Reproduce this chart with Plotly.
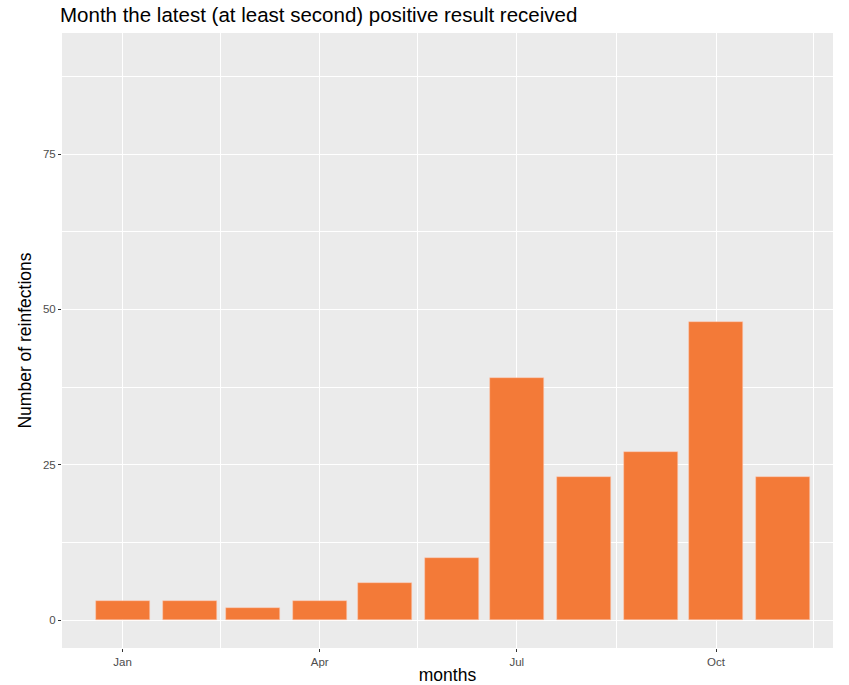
import plotly.graph_objects as go

months = ["2020-01-01", "2020-02-01", "2020-03-01", "2020-04-01", "2020-05-01", "2020-06-01",
          "2020-07-01", "2020-08-01", "2020-09-01", "2020-10-01", "2020-11-01"]
reinfections = [3, 3, 2, 3, 6, 10, 39, 23, 27, 48, 23]

x_tick_vals = ["2020-01-01", "2020-04-01", "2020-07-01", "2020-10-01"]
x_tick_text = ["Jan", "Apr", "Jul", "Oct"]
x_minor_vals = ["2020-02-15", "2020-05-16", "2020-08-16", "2020-11-15"]
y_tick_vals = [0, 25, 50, 75]
y_minor_vals = [12.5, 37.5, 62.5, 87.5]

DAY_MS = 86400000

fig = go.Figure(go.Bar(
    x=months, y=reinfections,
    width=[25 * DAY_MS] * len(months),
    marker=dict(color="#F37A38", line=dict(color="rgba(255,200,180,0.8)", width=0.6)),
))

font = "Liberation Sans, Arial, sans-serif"
fig.update_layout(
    width=849, height=685,
    margin=dict(l=62, r=16, t=33, b=37, autoexpand=False),
    paper_bgcolor="white", plot_bgcolor="#EBEBEB",
    font=dict(family=font, color="#4D4D4D"),
    title=dict(text="Month the latest (at least second) positive result received",
               x=60 / 849, xanchor="left", y=1 - 15 / 685, yanchor="middle",
               font=dict(size=20.5, color="black", family=font)),
    showlegend=False,
    bargap=0,
)
fig.update_xaxes(
    type="date", range=["2019-12-04", "2020-11-24"], automargin=False,
    tickvals=x_tick_vals, ticktext=x_tick_text,
    ticks="outside", ticklen=3, tickwidth=1, tickcolor="#333333",
    tickfont=dict(size=11.5, color="#4D4D4D"),
    showgrid=True, gridcolor="white", gridwidth=1.4,
    minor=dict(tickvals=x_minor_vals, showgrid=True, gridcolor="white", gridwidth=0.6, ticks=""),
    zeroline=False, showline=False,
    title=dict(text="months", font=dict(size=17.5, color="black"), standoff=3),
)
fig.update_yaxes(
    range=[-4.5, 94.5], automargin=False,
    tickvals=y_tick_vals,
    ticks="outside", ticklen=3, tickwidth=1, tickcolor="#333333",
    tickfont=dict(size=11.5, color="#4D4D4D"),
    showgrid=True, gridcolor="white", gridwidth=1.4,
    minor=dict(tickvals=y_minor_vals, showgrid=True, gridcolor="white", gridwidth=0.6, ticks=""),
    zeroline=False, showline=False,
    title=dict(text="Number of reinfections", font=dict(size=17.5, color="black"), standoff=6),
)

fig.write_html("out.html", config={"displayModeBar": False},
               post_script="document.body.style.margin='0';document.body.style.overflow='hidden';")
